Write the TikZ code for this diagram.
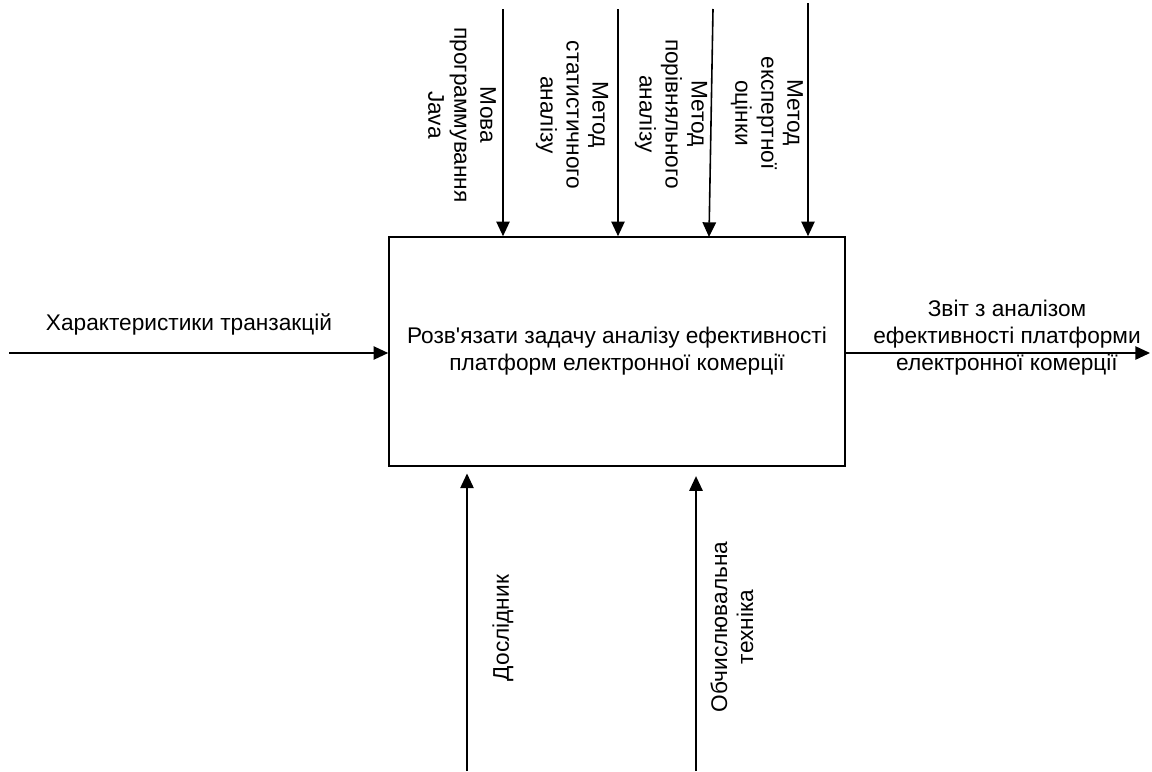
\documentclass[tikz,border=0pt]{standalone}
\usepackage{fontspec}
\setmainfont{Liberation Sans}
\usetikzlibrary{arrows.meta}
\begin{document}
\begin{tikzpicture}[x=0.75pt,y=-0.75pt,
  conn/.style={line width=1.2pt,-{Triangle[length=11pt,width=10pt]}},
  lbl/.style={inner sep=0pt,align=center,font=\fontsize{17}{19.5}\selectfont},
  procbox/.style={draw,line width=1.2pt,minimum width=342pt,minimum height=171.75pt,align=center,inner sep=0pt,font=\fontsize{17}{20.25}\selectfont}]
\useasboundingbox (0,0) rectangle (1152,771);
\node[procbox] (box) at (617,351.5) {Розв\textquotesingle язати задачу аналізу ефективності\\платформ електронної комерції};
% input
\coordinate (in) at (9,353);
\draw[conn] (in) -- (in -| box.west);
\node[lbl] (inl) at (189,324) {Характеристики транзакцій};
% output
\coordinate (out) at (1150,353);
\draw[conn] (out -| box.east) -- (out);
\node[lbl,font=\fontsize{17}{20.25}\selectfont] (outl) at (1007,338) {Звіт з аналізом\\ефективності платформи\\електронної комерції};
% controls
\coordinate (t1) at (503,9);
\coordinate (t2) at (618,9);
\coordinate (t3) at (713,9);
\coordinate (t3e) at (709,237);
\coordinate (t4) at (808,3);
\draw[conn] (t1) -- (t1 |- box.north);
\draw[conn] (t2) -- (t2 |- box.north);
\draw[conn] (t3) -- (t3e);
\draw[conn] (t4) -- (t4 |- box.north);
\node[lbl,rotate=-90] (c1) at (462,115) {Мова\\программування\\Java};
\node[lbl,rotate=-90] (c2) at (572,115) {Метод\\статистичного\\аналізу};
\node[lbl,rotate=-90] (c3) at (671,114) {Метод\\порівняльного\\аналізу};
\node[lbl,rotate=-90] (c4) at (767,113) {Метод\\експертної\\оцінки};
% mechanisms
\coordinate (b1) at (467,771);
\coordinate (b2) at (696,771);
\draw[conn] (b1) -- ([yshift=-5pt]b1 |- box.south);
\draw[conn] (b2) -- ([yshift=-7pt]b2 |- box.south);
\node[lbl,rotate=90] (m1) at (503,628) {Дослідник};
\node[lbl,rotate=90] (m2) at (732,627) {Обчислювальна\\техніка};
\end{tikzpicture}
\end{document}
